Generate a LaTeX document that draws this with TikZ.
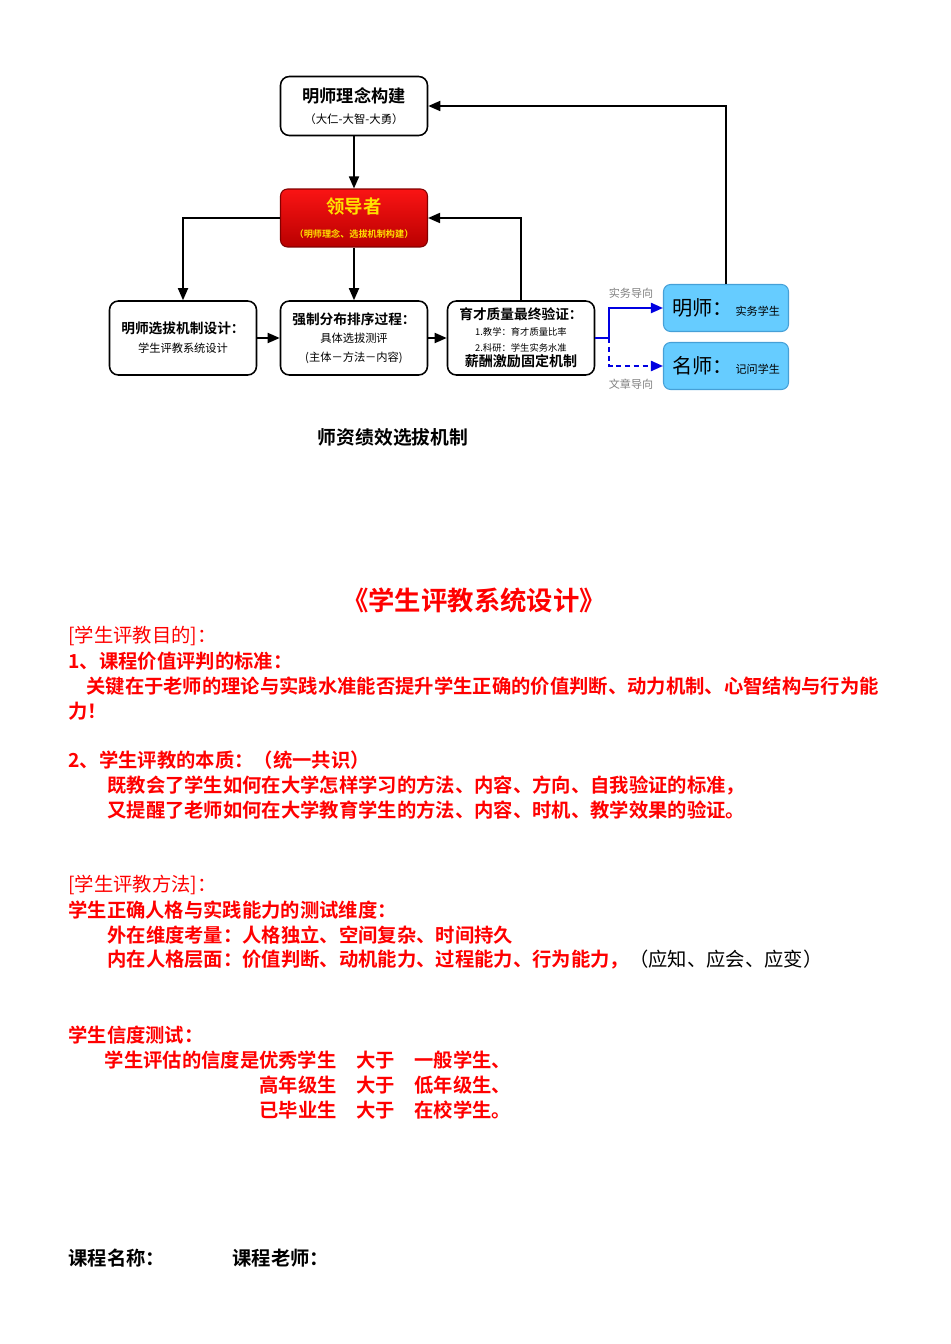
\documentclass[tikz,border=0pt]{standalone}
\usepackage{fontspec}
\setmainfont{Noto Sans CJK SC}[BoldFont={Noto Sans CJK SC Bold}]
\usetikzlibrary{positioning,arrows.meta}

\definecolor{leadtop}{RGB}{250,20,20}
\definecolor{leadbot}{RGB}{185,0,0}
\definecolor{leadtxt}{RGB}{255,225,0}
\definecolor{skyfill}{RGB}{102,204,255}
\definecolor{skyline}{RGB}{70,160,215}
\definecolor{guideblue}{RGB}{0,0,225}

\begin{document}
\begin{tikzpicture}[
    x=0.02cm, y=-0.02cm,
    box/.style={
        draw,
        rounded corners=5pt,
        line width=0.9pt,
        minimum width=2.94cm,
        minimum height=1.48cm,
        align=center,
        inner sep=1pt,
        font=\fontsize{6}{8}\selectfont
    },
    topbox/.style={box, minimum height=1.18cm},
    lead/.style={box, draw=leadbot!70!black, line width=0.6pt,
        top color=leadtop, bottom color=leadbot, text=leadtxt,
        minimum height=1.16cm, rounded corners=4pt},
    sky/.style={draw=skyline, line width=0.6pt, fill=skyfill,
        rounded corners=4pt, minimum width=2.5cm, minimum height=0.94cm,
        inner sep=0pt},
    arrow/.style={-{Triangle[length=2.4mm,width=2mm]}, line width=1pt},
    guide/.style={line width=1.2pt, color=guideblue},
    guidearrow/.style={guide, -{Triangle[length=2.4mm,width=2mm]}},
    tag/.style={text=gray, font=\fontsize{6.3}{8}\selectfont, inner sep=0pt},
    body/.style={anchor=west, inner sep=0pt, text=red,
        font=\fontsize{11}{13}\selectfont\bfseries},
    bodythin/.style={body, font=\fontsize{11}{13}\selectfont}
]
\useasboundingbox (0,0) rectangle (950,1344);

% ============================================================
% 选拔机制流程图
% ============================================================
\node[topbox] (idea) at (354,106)
    {{\fontsize{9.8}{12}\selectfont\bfseries 明师理念构建}\\[3.5pt]
     {\fontsize{6.5}{8}\selectfont （大仁-大智-大勇）}};
\node[lead] (leader) at (354,218)
    {{\fontsize{10.5}{12}\selectfont\bfseries 领导者}\\[6pt]
     {\fontsize{5.2}{7}\selectfont\bfseries （明师理念、选拔机制构建）}};

\node[box] (select) at (183,338)
    {{\fontsize{7.8}{10}\selectfont\bfseries 明师选拔机制设计：}\\[2.8pt]
     {\fontsize{6.4}{8}\selectfont 学生评教系统设计}};
\node[box] (rank) at (354,338)
    {{\fontsize{7.8}{10}\selectfont\bfseries 强制分布排序过程：}\\[2.5pt]
     {\fontsize{6.4}{8}\selectfont 具体选拔测评}\\[2.5pt]
     {\fontsize{6.4}{8}\selectfont (主体－方法－内容)}};
\node[box] (verify) at (521,338)
    {{\fontsize{7.8}{9}\selectfont\bfseries 育才质量最终验证：}\\[1pt]
     {\fontsize{5.3}{7}\selectfont 1.教学：育才质量比率}\\[1pt]
     {\fontsize{5.3}{7}\selectfont 2.科研：学生实务水准}\\[1pt]
     {\fontsize{8}{9}\selectfont\bfseries 薪酬激励固定机制}};

\node[sky] (practice) at (726,308)
    {{\fontsize{11.5}{13}\selectfont 明师：}\,{\fontsize{6.3}{8}\selectfont 实务学生}};
\node[sky] (famous) at (726,366)
    {{\fontsize{11.5}{13}\selectfont 名师：}\,{\fontsize{6.3}{8}\selectfont 记问学生}};

\draw[arrow] (idea) -- (leader);
\draw[arrow] (leader.west) -| (select.north);
\draw[arrow] (leader) -- (rank);
\draw[arrow] (verify.north) |- (leader.east);
\draw[arrow] (select) -- (rank);
\draw[arrow] (rank) -- (verify);
\draw[arrow] (practice.north) |- (idea.east);

% 导向分支
\coordinate (split) at (609,338);
\draw[guide] (verify.east) -- (split);
\draw[guidearrow] (split) |- (practice.west);
\draw[guidearrow, dashed, dash pattern=on 3pt off 2pt] (split) |- (famous.west);
\node[tag] (tagpractice) at (631,293) {实务导向};
\node[tag] (tagessay) at (631,384) {文章导向};

\node[font=\fontsize{10.7}{12}\selectfont\bfseries] (caption) at (393,437) {师资绩效选拔机制};

% ============================================================
% 学生评教系统设计
% ============================================================
\node[text=red, font=\fontsize{15}{18}\selectfont\bfseries] (title) at (474,600)
    {《学生评教系统设计》};

\node[bodythin] (aim) at (68,636) {[学生评教目的]：};
\node[body] (aimone) at (68,661) {1、课程价值评判的标准：};
\node[body] (aimonea) at (86,686)
    {关键在于老师的理论与实践水准能否提升学生正确的价值判断、动力机制、心智结构与行为能};
\node[body] (aimoneb) at (68,711) {力！};

\node[body] (aimtwo) at (68,760) {2、学生评教的本质：（统一共识）};
\node[body] (aimtwoa) at (107,785)
    {既教会了学生如何在大学怎样学习的方法、内容、方向、自我验证的标准，};
\node[body] (aimtwob) at (107,810)
    {又提醒了老师如何在大学教育学生的方法、内容、时机、教学效果的验证。};

\node[bodythin] (method) at (68,885) {[学生评教方法]：};
\node[body] (dims) at (68,910) {学生正确人格与实践能力的测试维度：};
\node[body] (outer) at (107,935) {外在维度考量：人格独立、空间复杂、时间持久};
\node[body] (inner) at (107,960)
    {内在人格层面：价值判断、动机能力、过程能力、行为能力，{\color{black}\mdseries （应知、应会、应变）}};

\node[body] (trust) at (68,1035) {学生信度测试：};
\foreach \row/\lhs/\rhs in {1060/学生评估的信度是优秀学生/一般学生、,
                            1085/高年级生/低年级生、,
                            1110/已毕业生/在校学生。} {
    \node[body, anchor=east] (trustl\row) at (337,\row) {\lhs};
    \node[body] (trustm\row) at (356,\row) {大于};
    \node[body] (trustr\row) at (414,\row) {\rhs};
}

\node[anchor=west, inner sep=0pt, font=\fontsize{11}{13}\selectfont\bfseries] (course) at (68,1258) {课程名称：};
\node[anchor=west, inner sep=0pt, font=\fontsize{11}{13}\selectfont\bfseries] (teacher) at (232,1258) {课程老师：};

\end{tikzpicture}
\end{document}
